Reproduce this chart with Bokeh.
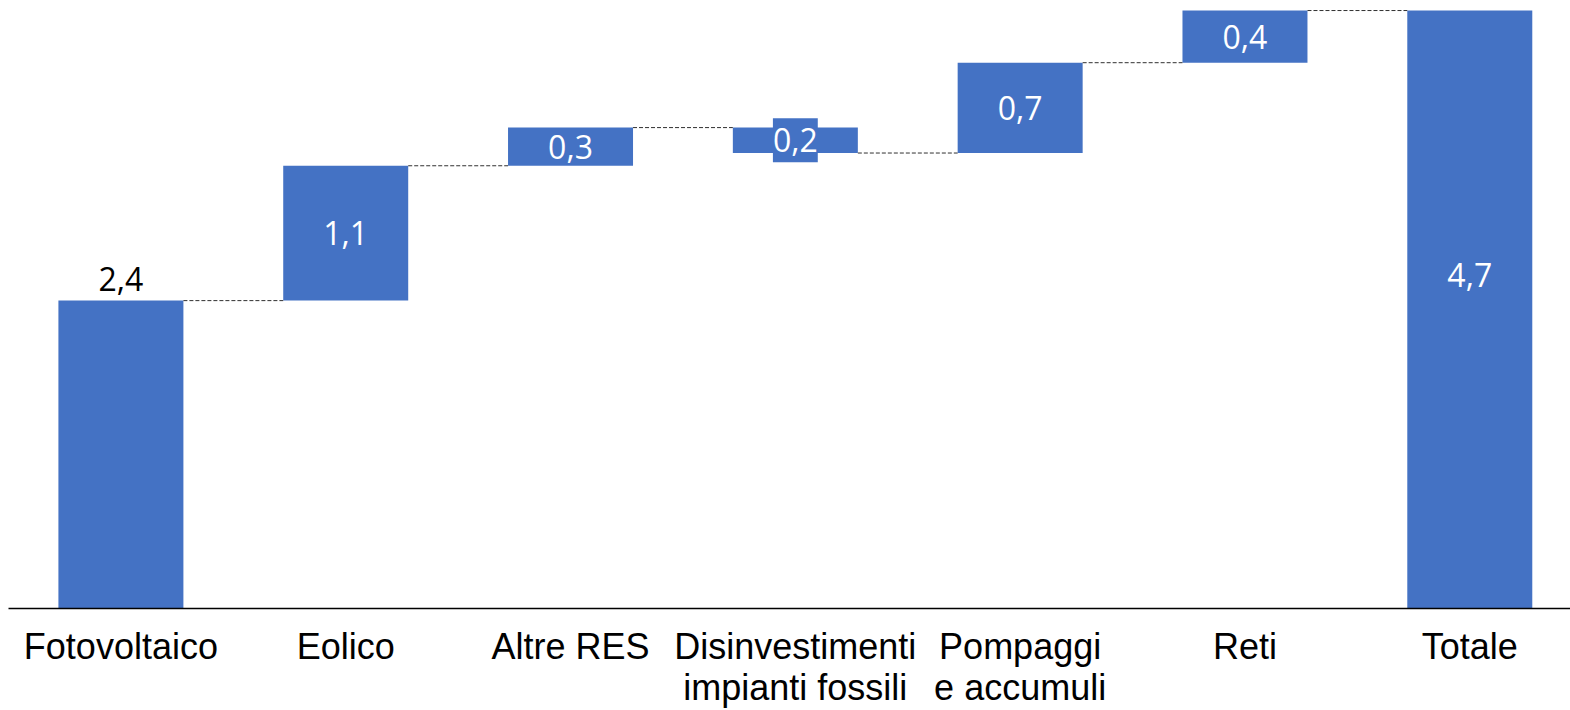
from bokeh.plotting import figure
from bokeh.models import Range1d, FixedTicker, Label, ColumnDataSource
from bokeh.embed import file_html
from bokeh.resources import INLINE

categories = ["Fotovoltaico", "Eolico", "Altre RES", "Disinvestimenti\nimpianti fossili",
              "Pompaggi\ne accumuli", "Reti", "Totale"]
deltas = [2.42, 1.06, 0.30, -0.20, 0.71, 0.41]

BLUE = "#4472C4"
W = 0.556

def fmt(v):
    return f"{abs(v):.1f}".replace(".", ",")

xs, bottoms, tops, labels, label_y = [], [], [], [], []
cum = 0.0
for i, d in enumerate(deltas):
    b, t = cum, cum + d
    xs.append(i + 0.5)
    bottoms.append(min(b, t))
    tops.append(max(b, t))
    labels.append(fmt(d))
    label_y.append((b + t) / 2)
    cum = t
total = cum
xs.append(len(deltas) + 0.5)
bottoms.append(0.0)
tops.append(total)
labels.append(fmt(total))
label_y.append(total * 0.557)

p = figure(width=1570, height=710, output_backend="svg", toolbar_location=None,
           x_range=Range1d(0, 6.948), y_range=Range1d(0, 4.716),
           min_border_left=8, min_border_right=0, min_border_top=8, min_border_bottom=0)
p.outline_line_color = None
p.xgrid.visible = False
p.ygrid.visible = False
p.yaxis.visible = False

src = ColumnDataSource(dict(x=xs, bottom=bottoms, top=tops))
p.vbar(x="x", bottom="bottom", top="top", width=W, source=src, fill_color=BLUE, line_color=None)

# connectors
x0s, x1s, ys = [], [], []
cum = 0.0
for i, d in enumerate(deltas):
    cum += d
    x0s.append(i + 0.5 + W / 2)
    x1s.append(i + 1.5 - W / 2)
    ys.append(cum)
p.segment(x0=x0s, y0=ys, x1=x1s, y1=ys, line_color="#303030", line_width=1, line_dash="4 2")

# value labels
for i, (x, lab, ly) in enumerate(zip(xs, labels, label_y)):
    if i == 0:
        p.add_layout(Label(x=x, y=tops[i], text=lab, text_color="black", text_font="Open Sans",
                           text_font_size="32px", text_align="center", text_baseline="bottom",
                           y_offset=10))
    elif i < len(deltas) and deltas[i] < 0:
        p.add_layout(Label(x=x, y=ly, text=lab, text_color="white", text_font="Open Sans",
                           text_font_size="32px", text_align="center", text_baseline="middle",
                           background_fill_color=BLUE, padding=(0, 10)))
    else:
        p.add_layout(Label(x=x, y=ly, text=lab, text_color="white", text_font="Open Sans",
                           text_font_size="32px", text_align="center", text_baseline="middle"))

ax = p.xaxis[0]
ax.ticker = FixedTicker(ticks=xs)
ax.major_label_overrides = {x: c for x, c in zip(xs, categories)}
ax.major_tick_line_color = None
ax.minor_tick_line_color = None
ax.axis_line_color = "black"
ax.axis_line_width = 1.5
ax.major_label_text_font = "Liberation Sans"
ax.major_label_text_font_size = "36px"
ax.major_label_text_color = "black"
ax.major_label_text_line_height = 1.0
ax.major_label_standoff = 11

open("out.html", "w").write(file_html(p, INLINE))
